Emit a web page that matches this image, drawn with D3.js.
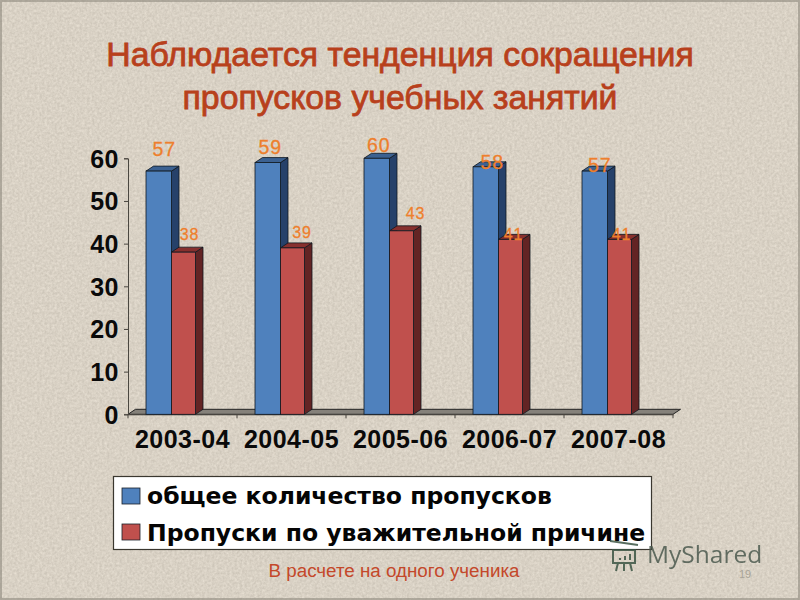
<!DOCTYPE html>
<html><head><meta charset="utf-8">
<script src="https://cdn.jsdelivr.net/npm/d3@7/dist/d3.min.js"></script>
<style>html,body{margin:0;padding:0;background:#d8d2c6}svg{display:block}</style>
</head><body><div id="chart"></div>
<script>
const categories = ["2003-04","2004-05","2005-06","2006-07","2007-08"];
const totalValues = [57,59,60,58,57];
const excusedValues = [38,39,43,41,41];
const seriesNames = ["общее количество пропусков","Пропуски по уважительной причине"];
const yTicks = [0,10,20,30,40,50,60];
const titleLines = ["Наблюдается тенденция сокращения","пропусков учебных занятий"];
const footnote = "В расчете на одного ученика";

const W=800,H=600,font="'Liberation Sans',Arial,sans-serif";
const svg=d3.select("#chart").append("svg").attr("width",W).attr("height",H);
const defs=svg.append("defs");
const tex=defs.append("filter").attr("id","paper").attr("x",0).attr("y",0).attr("width","100%").attr("height","100%").attr("color-interpolation-filters","sRGB");
tex.append("feTurbulence").attr("type","fractalNoise").attr("baseFrequency",0.4).attr("numOctaves",3).attr("seed",4).attr("result","n");
tex.append("feColorMatrix").attr("in","n").attr("type","matrix")
  .attr("values","0.14 0 0 0 0.78  0.14 0 0 0 0.75  0.14 0 0 0 0.70  0 0 0 0 1");
svg.append("rect").attr("width",W).attr("height",H).attr("filter","url(#paper)");
svg.append("rect").attr("x",1).attr("y",1).attr("width",W-2).attr("height",H-2).attr("fill","none").attr("stroke","#8f8a7e").attr("stroke-width",2).attr("opacity",.6);

const title=svg.append("g").attr("font-family",font).attr("font-size",33.8).attr("fill","#b8401c").attr("stroke","#b8401c").attr("stroke-width",.8).attr("text-anchor","middle");
titleLines.forEach((t,i)=>title.append("text").attr("x",400).attr("y",66+i*43).text(t));

const x=d3.scaleBand().domain(categories).range([128,673]);
const y=d3.scaleLinear().domain([0,60]).range([414.3,158.3]);
const dx=7.5,dy=5;

// floor
const floorPts=[[x.range()[0],y(0)],[x.range()[0]+dx,y(0)-dy],[x.range()[1]+dx,y(0)-dy],[x.range()[1],y(0)]];
svg.append("polygon").attr("points",floorPts.join(" ")).attr("fill","#85817a").attr("stroke","#222").attr("stroke-width",1);

// axes
const axisText=s=>s.attr("font-family",font).attr("font-size",25).attr("font-weight","700").attr("fill","#0a0a0a").attr("letter-spacing",.5);
const gy=svg.append("g").attr("transform","translate(128,0)").call(d3.axisLeft(y).tickValues(yTicks).tickSize(4).tickPadding(5));
gy.selectAll("text").call(axisText).attr("dy","0.36em");
gy.selectAll("line,path").attr("stroke","#4a4740");
const gx=svg.append("g").attr("transform",`translate(0,${y(0)})`).call(d3.axisBottom(x).tickSize(0).tickPadding(16));
gx.select("path").attr("stroke","#4a4740");
gx.selectAll("text").call(axisText).attr("dy","0.71em");
svg.append("g").selectAll("line").data(d3.range(categories.length+1)).join("line")
  .attr("x1",i=>x.range()[0]+i*x.step()).attr("x2",i=>x.range()[0]+i*x.step())
  .attr("y1",y(0)).attr("y2",y(0)+4).attr("stroke","#4a4740");

const barW1=25.5,barW2=24;
const series=[
 {vals:totalValues,off:18,w:barW1,front:"#4f81bd",top:"#3c6191",side:"#26416a"},
 {vals:excusedValues,off:18+barW1,w:barW2,front:"#c0504d",top:"#87302e",side:"#632424"}
];
series.forEach(s=>{
  const g=svg.append("g").selectAll("g").data(s.vals.map((v,i)=>({v,c:categories[i]}))).join("g");
  const X=d=>x(d.c)+s.off;
  g.append("polygon").attr("fill",s.side).attr("stroke","#101820").attr("stroke-width",.8)
   .attr("points",d=>[[X(d)+s.w,y(d.v)],[X(d)+s.w+dx,y(d.v)-dy],[X(d)+s.w+dx,y(0)-dy],[X(d)+s.w,y(0)]].join(" "));
  g.append("polygon").attr("fill",s.top).attr("stroke","#101820").attr("stroke-width",.8)
   .attr("points",d=>[[X(d),y(d.v)],[X(d)+dx,y(d.v)-dy],[X(d)+s.w+dx,y(d.v)-dy],[X(d)+s.w,y(d.v)]].join(" "));
  g.append("rect").attr("x",X).attr("width",s.w).attr("y",d=>y(d.v)).attr("height",d=>y(0)-y(d.v))
   .attr("fill",s.front).attr("stroke","#101820").attr("stroke-width",.8);
});
// value labels: manual nudges relative to each bar, as in the reference
const totalNudgeX=[5.5,2.5,2,1.5,0], totalNudgeY=[-15,-9,-6,2,1];
const excusedNudgeX=[6,9.5,14,1,0], excusedNudgeY=[-12,-10,-12,1,1];
const lab=svg.append("g").attr("font-family",font).attr("fill","#ee7f2d").attr("stroke","#ee7f2d").attr("stroke-width",.3).attr("text-anchor","middle").attr("letter-spacing",.8);
totalValues.forEach((v,i)=>lab.append("text").attr("font-size",19.5)
  .attr("x",x(categories[i])+18+barW1/2+totalNudgeX[i]+(i>=3?5:0)).attr("y",y(v)+totalNudgeY[i]).text(v));
excusedValues.forEach((v,i)=>lab.append("text").attr("font-size",16)
  .attr("x",x(categories[i])+18+barW1+barW2/2+excusedNudgeX[i]+(i>=3?2:0)).attr("y",y(v)+excusedNudgeY[i]).text(v));

// legend
const lg=svg.append("g");
lg.append("rect").attr("x",113.5).attr("y",476.5).attr("width",538).attr("height",73).attr("fill","#fff").attr("stroke","#3a372f").attr("stroke-width",1.2);
seriesNames.forEach((n,i)=>{
  const yy=488+i*36;
  lg.append("rect").attr("x",122).attr("y",yy).attr("width",18).attr("height",16).attr("fill",["#4f81bd","#c0504d"][i]).attr("stroke","#1a2028").attr("stroke-width",.8);
  lg.append("text").attr("x",147).attr("y",504+i*37).attr("font-family","'DejaVu Sans',Verdana,sans-serif").attr("font-weight","700").attr("font-size",23.5).attr("fill","#050505").text(n);
});

svg.append("text").attr("x",394).attr("y",577).attr("text-anchor","middle").attr("font-family",font).attr("font-size",18.8).attr("fill","#c4482a").text(footnote);
svg.append("text").attr("x",745).attr("y",578).attr("text-anchor","middle").attr("font-family",font).attr("font-size",11).attr("fill","#a9a498").text("19");

// watermark
const wm=svg.append("g").attr("stroke","#3b5544").attr("fill","none").attr("stroke-width",2).attr("opacity",.85);
wm.append("rect").attr("x",613).attr("y",550).attr("width",22).attr("height",13);
wm.append("path").attr("d","M610 541L638 545M618 563l-2 8M624 563v8M630 563l2 8M620 560v-2M625 560v-4M630 560v-6");
svg.append("text").attr("x",647).attr("y",563).attr("font-family","'Open Sans',sans-serif").attr("font-size",24.5).attr("fill","#4c5a4f").attr("opacity",.85).text("MyShared");
</script></body></html>
